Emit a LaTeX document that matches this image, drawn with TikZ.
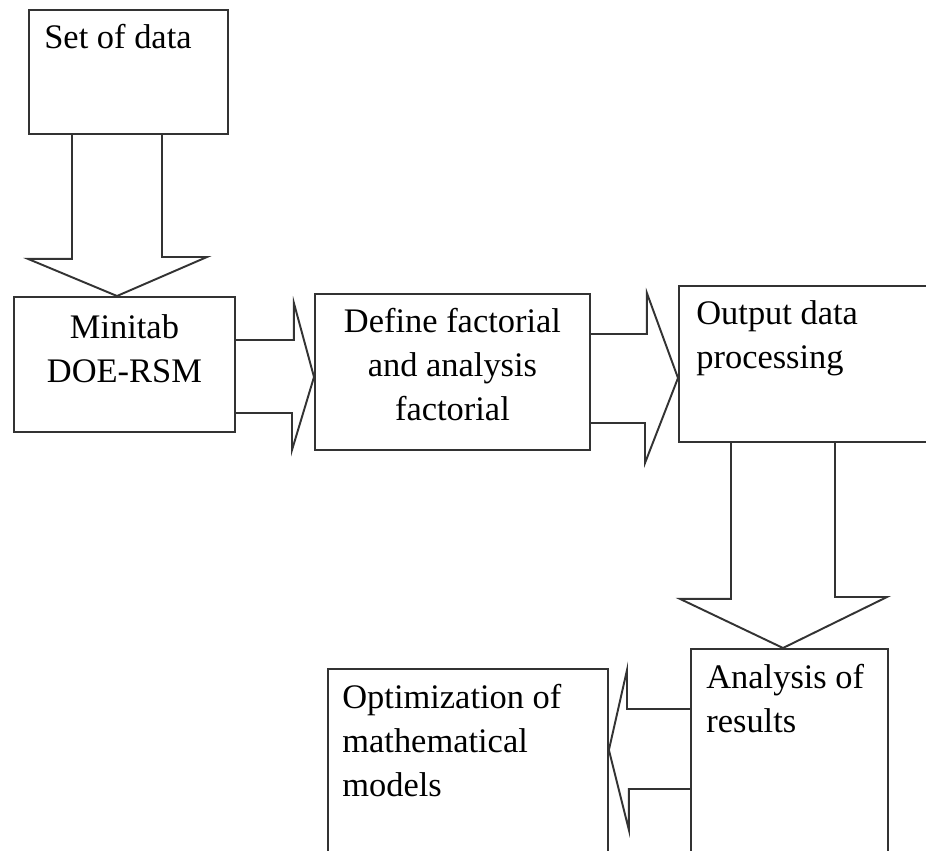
\documentclass[tikz,border=0pt]{standalone}
\usepackage{fontspec}
\setmainfont{Liberation Serif}
\usetikzlibrary{positioning, calc}

\begin{document}
\begin{tikzpicture}[
  x=0.02cm, y=-0.02cm,
  every node/.style={font=\fontsize{19.6}{25}\selectfont},
  box/.style={draw=black!80, line width=1.1pt, rectangle, inner sep=0pt, anchor=north west},
  txt/.style={inner sep=0pt, align=left, anchor=north west},
  ctxt/.style={inner sep=0pt, align=center, anchor=north},
  blockarrow/.style={draw=black!80, line width=1.1pt, line join=miter}
]
\useasboundingbox (0,0) rectangle (926,851);
\clip (0,0) rectangle (926,851);

% Boxes
\node[box, minimum width=3.98cm, minimum height=2.48cm] (data) at (28,9) {};
\node[box, minimum width=4.42cm, minimum height=2.70cm] (minitab) at (13,296) {};
\node[box, minimum width=5.50cm, minimum height=3.12cm] (define) at (314,293) {};
\node[box, minimum width=5.14cm, minimum height=3.12cm] (output) at (678,285) {};
\node[box, minimum width=3.94cm, minimum height=4.64cm] (analysis) at (690,648) {};
\node[box, minimum width=5.60cm, minimum height=4.24cm] (optim) at (327,668) {};

% Texts
\node[txt] (datatxt) at ($(data.north west)+(16,15)$) {Set of data};
\node[ctxt] (minitabtxt) at ($(minitab.north)+(0,18)$) {Minitab\\DOE-RSM};
\node[ctxt] (definetxt) at ($(define.north)+(0,15)$) {Define factorial\\and analysis\\factorial};
\node[txt] (outputtxt) at ($(output.north west)+(18,15)$) {Output data\\processing};
\node[txt] (analysistxt) at ($(analysis.north west)+(16,16)$) {Analysis of\\results};
\node[txt] (optimtxt) at ($(optim.north west)+(15,16)$) {Optimization of\\mathematical\\models};

% Block arrows
\draw[blockarrow] ($(data.south west)+(44,0)$) -- ++(0,124) -- ++(-44,0)
  -- ($(minitab.north west)+(104,0)$) -- ++(90,-39) -- ++(-45,0)
  -- ($(data.south west)+(134,0)$);
\draw[blockarrow] ($(minitab.north east)+(0,44)$) -- ++(58,0) -- ++(0,-37)
  -- ($(define.north west)+(0,84)$) -- ++(-22,73) -- ++(0,-37)
  -- ($(minitab.north east)+(0,117)$);
\draw[blockarrow] ($(define.north east)+(0,41)$) -- ++(56,0) -- ++(0,-41)
  -- ($(output.north west)+(0,93)$) -- ++(-33,85) -- ++(0,-40)
  -- ($(define.north east)+(0,130)$);
\draw[blockarrow] ($(output.south west)+(53,0)$) -- ++(0,156) -- ++(-51,0)
  -- ($(analysis.north west)+(93,0)$) -- ++(104,-51) -- ++(-52,0)
  -- ($(output.south west)+(157,0)$);
\draw[blockarrow] ($(analysis.north west)+(0,61)$) -- ++(-63,0) -- ++(0,-39)
  -- ($(optim.north east)+(0,82)$) -- ++(20,80) -- ++(0,-41)
  -- ($(analysis.north west)+(0,141)$);

\end{tikzpicture}
\end{document}
